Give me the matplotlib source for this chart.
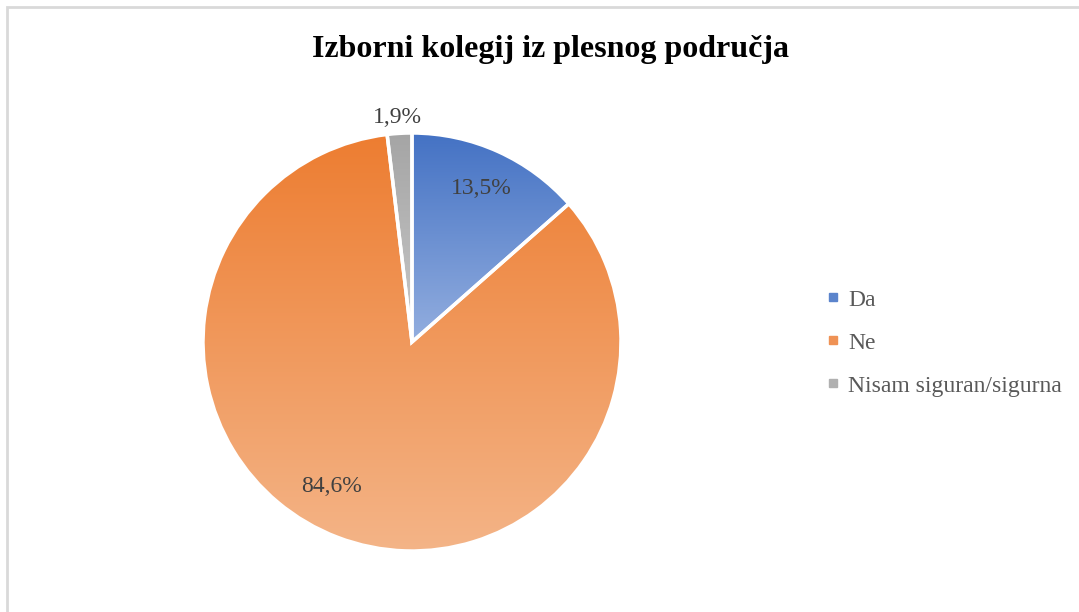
import numpy as np
import matplotlib.pyplot as plt
from matplotlib.colors import LinearSegmentedColormap
from matplotlib.lines import Line2D
from matplotlib.patches import Rectangle

categories = ["Da", "Ne", "Nisam siguran/sigurna"]
shares = [13.5, 84.6, 1.9]

# gradient colours per slice: top -> bottom
top_colors = ["#4472C4", "#ED7D31", "#A5A5A5"]
bottom_colors = ["#93AEDF", "#F4B487", "#C8C8C8"]
legend_colors = ["#5B84CC", "#EF9255", "#B0B0B0"]

# label placement (radius in pie units, angle in degrees)
label_pos = [(0.805, 65.8), (0.79, 240.9), (1.075, 93.8)]

W, H = 1079, 612
fig = plt.figure(figsize=(W / 100, H / 100), dpi=100)
fig.patch.set_facecolor("white")

# chart border
fig.patches.append(Rectangle((6.5 / W, -0.05), 1.2, (H - 7) / H + 0.05,
                             transform=fig.transFigure, fill=False,
                             edgecolor="#D9D9D9", linewidth=2))

cx, cy, r = 412, 342, 209
ax = fig.add_axes([(cx - r) / W, (H - cy - r) / H, 2 * r / W, 2 * r / H])
ax.set_xlim(-1, 1)
ax.set_ylim(-1, 1)
ax.set_aspect("equal")
ax.axis("off")

wedges, _ = ax.pie(shares, startangle=90, counterclock=False, radius=1,
                   wedgeprops=dict(edgecolor="white", linewidth=2.5))

grad = np.linspace(0, 1, 256).reshape(-1, 1)
for w, c0, c1 in zip(wedges, top_colors, bottom_colors):
    bb = w.get_path().get_extents()
    cmap = LinearSegmentedColormap.from_list("g", [c0, c1])
    im = ax.imshow(grad, cmap=cmap, aspect="auto", origin="upper",
                   extent=[bb.x0, bb.x1, bb.y0, bb.y1], zorder=1)
    im.set_clip_path(w)
    w.set_facecolor("none")
    w.set_zorder(3)

ax.set_xlim(-1, 1)
ax.set_ylim(-1, 1)

for val, (rad, ang) in zip(shares, label_pos):
    t = np.deg2rad(ang)
    ax.text(rad * np.cos(t), rad * np.sin(t), f"{val:.1f}%".replace(".", ","),
            ha="center", va="center", fontsize=17, color="#404040",
            family="Liberation Serif", zorder=5, clip_on=False)

fig.text(0.51, 1 - 50 / H, "Izborni kolegij iz plesnog područja",
         ha="center", va="center", fontsize=23, fontweight="bold",
         family="Liberation Serif", color="black")

handles = [Line2D([], [], marker="s", linestyle="none", markersize=5.5,
                  markerfacecolor=c, markeredgecolor=c) for c in legend_colors]
leg = fig.legend(handles, categories, loc="upper left",
                 bbox_to_anchor=(826 / W, 1 - 289 / H), frameon=False,
                 prop={"family": "Liberation Serif", "size": 17},
                 borderpad=0, borderaxespad=0,
                 handlelength=0.6, handletextpad=0.35, labelspacing=0.91)
for txt in leg.get_texts():
    txt.set_color("#595959")

fig.savefig("out.png", dpi=100)
